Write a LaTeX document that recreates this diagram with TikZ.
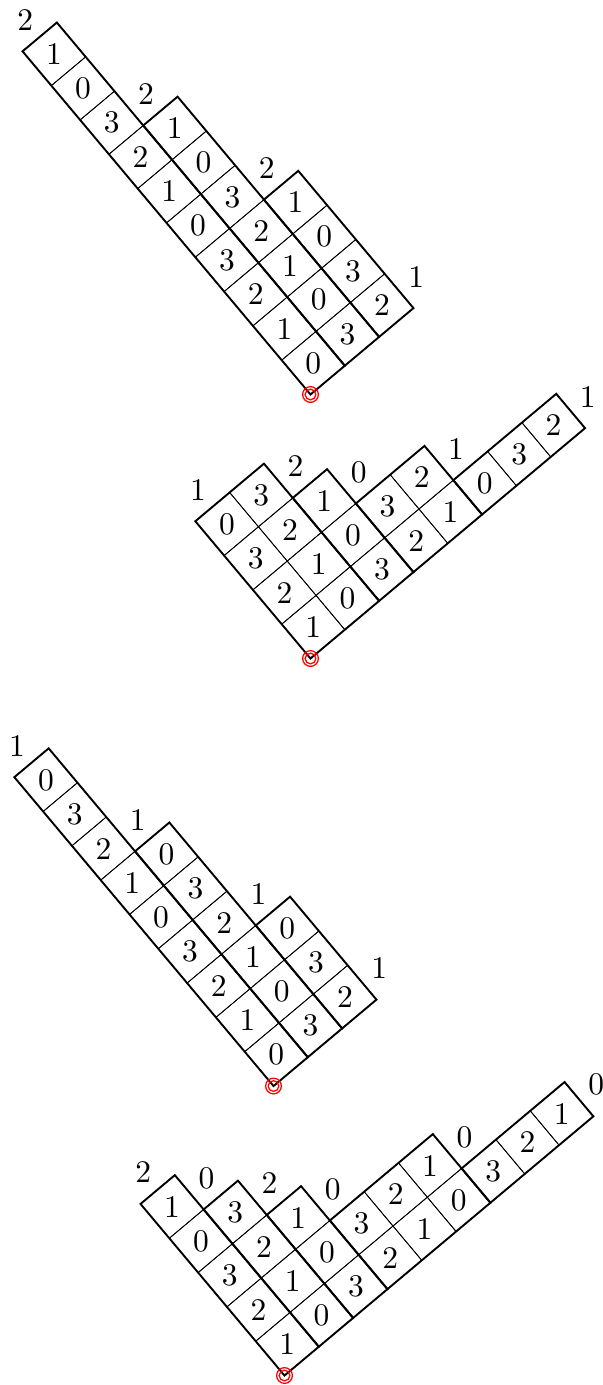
\documentclass[tikz,border=0pt]{standalone}

\begin{document}
\begin{tikzpicture}[
  cellline/.style={line width=0.25pt},
  block/.style={line width=0.6pt},
  content/.style={inner sep=0pt, font=\normalsize},
  origin/.style={red, line width=0.4pt},
  tableau/.style={x=0.5cm, y=0.5cm, rotate=40}
]
\useasboundingbox (0,0) rectangle (6.7301,-15.4580);
\coordinate (o1) at (3.4655,-4.4030);
\coordinate (o2) at (3.4655,-7.3496);
\coordinate (o3) at (3.0526,-12.1210);
\coordinate (o4) at (3.1754,-15.3521);

% first diagram
\begin{scope}[shift={(o1)}, tableau]
  \foreach \h [count=\j from 0] in {10,7,4} {
    \foreach \i in {1,...,\h} {
      \draw[cellline] (\j,\i-1) rectangle ++(1,1);
      \pgfmathtruncatemacro\c{mod(\i-1-\j+40,4)}
      \node[content] (p\j-\i) at (\j+.5,\i-.5) {\c};
    }
  }
  \draw[block] (0,0) rectangle (1,10);
  \draw[block] (1,0) rectangle (2,7);
  \draw[block] (2,0) rectangle (3,4);
  \node[content] (pa1) at (0.5,10.5) {2};
  \node[content] (pa2) at (1.5,7.5) {2};
  \node[content] (pa3) at (2.5,4.5) {2};
  \node[content] (pa4) at (3.5,0.5) {1};
\end{scope}

% second diagram
\begin{scope}[shift={(o2)}, tableau]
  \foreach \h [count=\j from 0] in {4,4,3,2,2,1,1,1} {
    \foreach \i in {1,...,\h} {
      \draw[cellline] (\j,\i-1) rectangle ++(1,1);
      \pgfmathtruncatemacro\c{mod(1+\i-1-\j+40,4)}
      \node[content] (q\j-\i) at (\j+.5,\i-.5) {\c};
    }
  }
  \draw[block] (0,0) rectangle (2,4);
  \draw[block] (2,0) rectangle (3,3);
  \draw[block] (3,0) rectangle (5,2);
  \draw[block] (5,0) rectangle (8,1);
  \node[content] (qa1) at (0.5,4.5) {1};
  \node[content] (qa2) at (2.5,3.5) {2};
  \node[content] (qa3) at (3.5,2.5) {0};
  \node[content] (qa4) at (5.5,1.5) {1};
  \node[content] (qa5) at (8.5,0.5) {1};
\end{scope}

% third diagram
\begin{scope}[shift={(o3)}, tableau]
  \foreach \h [count=\j from 0] in {9,6,3} {
    \foreach \i in {1,...,\h} {
      \draw[cellline] (\j,\i-1) rectangle ++(1,1);
      \pgfmathtruncatemacro\c{mod(\i-1-\j+40,4)}
      \node[content] (r\j-\i) at (\j+.5,\i-.5) {\c};
    }
  }
  \draw[block] (0,0) rectangle (1,9);
  \draw[block] (1,0) rectangle (2,6);
  \draw[block] (2,0) rectangle (3,3);
  \node[content] (ra1) at (0.5,9.5) {1};
  \node[content] (ra2) at (1.5,6.5) {1};
  \node[content] (ra3) at (2.5,3.5) {1};
  \node[content] (ra4) at (3.5,0.5) {1};
\end{scope}

% fourth diagram
\begin{scope}[shift={(o4)}, tableau]
  \foreach \h [count=\j from 0] in {5,4,3,2,2,2,1,1,1} {
    \foreach \i in {1,...,\h} {
      \draw[cellline] (\j,\i-1) rectangle ++(1,1);
      \pgfmathtruncatemacro\c{mod(1+\i-1-\j+40,4)}
      \node[content] (s\j-\i) at (\j+.5,\i-.5) {\c};
    }
  }
  \draw[block] (0,0) rectangle (1,5);
  \draw[block] (1,0) rectangle (2,4);
  \draw[block] (2,0) rectangle (3,3);
  \draw[block] (3,0) rectangle (6,2);
  \draw[block] (6,0) rectangle (9,1);
  \node[content] (sa1) at (0.5,5.5) {2};
  \node[content] (sa2) at (1.5,4.5) {0};
  \node[content] (sa3) at (2.5,3.5) {2};
  \node[content] (sa4) at (3.5,2.5) {0};
  \node[content] (sa5) at (6.5,1.5) {0};
  \node[content] (sa6) at (9.5,0.5) {0};
\end{scope}

% origins
\foreach \o in {o1,o2,o3,o4} {
  \draw[origin] (\o) circle (1.7pt);
  \draw[origin] (\o) circle (2.5pt);
}
\end{tikzpicture}
\end{document}
